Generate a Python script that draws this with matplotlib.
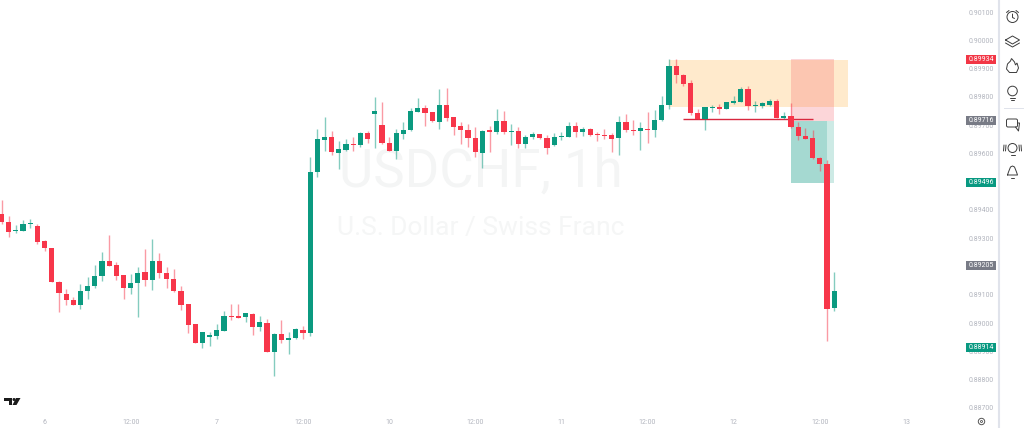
#!/usr/bin/python3
import numpy as np
import matplotlib
matplotlib.use('Agg')
import matplotlib.pyplot as plt
from matplotlib.patches import Rectangle, Circle, Polygon, FancyBboxPatch
from matplotlib.transforms import blended_transform_factory, IdentityTransform

plt.rcParams['font.family'] = ['Roboto', 'DejaVu Sans']

# hourly candles, prices in 1e-5 CHF
highs = [89435,89379,89347,89364,89369,89349,89292,89266,89147,89120,
         89091,89139,89163,89204,89252,89311,89215,89170,89174,89198,
         89261,89297,89248,89199,89191,89131,89067,88997,88969,88969,
         88996,89042,89066,89066,89035,89034,89026,89013,88963,89009,
         88967,88984,88989,89588,89685,89730,89681,89644,89652,89659,
         89676,89681,89799,89782,89657,89685,89710,89760,89796,89770,
         89746,89827,89833,89728,89710,89703,89695,89683,89696,89756,
         89750,89703,89692,89665,89675,89670,89664,89671,89675,89711,
         89710,89692,89689,89677,89685,89674,89733,89738,89718,89712,
         89745,89752,89805,89933,89933,89881,89860,89758,89763,89771,
         89774,89783,89803,89834,89839,89784,89783,89794,89791,89747,
         89778,89711,89690,89682,89588,89577,89180]
body_tops = [89384,89356,89329,89351,89354,89343,89289,89265,89146,89104,
             89081,89113,89131,89166,89219,89219,89205,89169,89143,89178,
             89179,89219,89219,89176,89156,89113,89067,88996,88968,88957,
             88974,89025,89025,89025,89034,89033,89004,89000,88961,88961,
             88948,88979,88977,89534,89650,89659,89659,89615,89633,89633,
             89671,89671,89749,89701,89638,89671,89682,89751,89760,89760,
             89746,89770,89770,89728,89696,89682,89655,89681,89682,89716,
             89716,89679,89678,89659,89668,89668,89655,89659,89662,89696,
             89696,89687,89687,89669,89665,89664,89710,89710,89682,89689,
             89686,89719,89772,89911,89911,89876,89848,89743,89763,89764,
             89763,89782,89784,89829,89829,89771,89777,89785,89785,89734,
             89731,89693,89663,89653,89584,89564,89114]
body_bottoms = [89356,89323,89325,89327,89350,89288,89266,89146,89105,89081,
                89062,89062,89113,89131,89165,89203,89166,89125,89125,89143,
                89152,89152,89176,89156,89113,89062,88994,88931,88931,88949,
                88955,88973,89021,89019,89021,88986,88986,88899,88899,88941,
                88940,88947,88964,88965,89536,89648,89604,89600,89613,89630,
                89629,89651,89738,89636,89610,89609,89670,89682,89748,89743,
                89715,89712,89727,89694,89682,89655,89604,89600,89676,89677,
                89675,89676,89635,89635,89657,89655,89619,89629,89659,89659,
                89676,89676,89665,89666,89663,89651,89655,89682,89679,89680,
                89683,89683,89719,89771,89878,89847,89742,89721,89721,89762,
                89757,89758,89777,89783,89768,89768,89769,89771,89725,89725,
                89693,89662,89652,89584,89562,89048,89054]
lows = [89349,89303,89320,89325,89337,89281,89256,89146,89040,89065,
        89062,89049,89085,89125,89147,89202,89152,89086,89102,89022,
        89130,89117,89160,89125,89111,89047,88964,88928,88912,88918,
        88944,88973,89012,89019,89004,88957,88973,88898,88813,88930,
        88890,88944,88944,88955,89518,89610,89593,89545,89610,89610,
        89624,89638,89619,89633,89609,89580,89651,89679,89747,89696,
        89712,89688,89716,89666,89633,89622,89587,89547,89605,89669,
        89669,89630,89619,89619,89650,89651,89599,89626,89646,89657,
        89657,89663,89663,89644,89651,89604,89595,89675,89665,89612,
        89638,89658,89716,89757,89849,89840,89737,89721,89684,89745,
        89741,89756,89775,89781,89754,89745,89761,89769,89724,89723,
        89691,89647,89651,89580,89538,88937,89042]
directions = ("RRGGGRRRRR" "RGGGGRRRGG" "RGRRRRRRGG" "GGRRGRGRGR" "GGRGGGRGGR"
              "GRGRRGGGGR" "RGRRRRRGRG" "RGRGGRRGGG" "RGRRRRGRRG" "RGGGRRRRGG"
              "RGGGRGGGRG" "RRRRRRG")

time_ticks = [6, 18, 30, 42, 54, 66, 78, 90, 102, 114, 126]
time_labels = ['6', '12:00', '7', '12:00', '10', '12:00', '11', '12:00', '12', '12:00', '13']
# 0.89500 and 0.89200 sit right behind the price tags, so they are left out
price_ticks = [0.90100, 0.90000, 0.89900, 0.89800, 0.89700, 0.89600, 0.89400,
               0.89300, 0.89100, 0.89000, 0.88900, 0.88800, 0.88700]

# price tags on the scale
tag_prices = [0.89934, 0.89716, 0.89496, 0.89205, 0.88914]
tag_colors = ['#F23645', '#787B86', '#089981', '#787B86', '#089981']

RED = '#F7364A'
GREEN = '#0B9A80'
W, H = 1024, 428

fig = plt.figure(figsize=(10.24, 4.28), dpi=100, facecolor='white')
ax = fig.add_axes([0, (H - 414) / H, 966 / W, 414 / H])
ax.set_xlim(-0.209, 134.37)
ax.set_ylim(0.88678, 0.90143)
for s in ax.spines.values():
    s.set_visible(False)

idx = np.arange(len(highs))
h = np.array(highs) / 1e5
l = np.array(lows) / 1e5
top = np.array(body_tops) / 1e5
bot = np.array(body_bottoms) / 1e5
cols = [GREEN if d == 'G' else RED for d in directions]

# watermark
px_y = blended_transform_factory(IdentityTransform(), ax.transData)
ax.text(481, 0.89534, 'USDCHF, 1h', transform=px_y, fontsize=38, color='#F4F5F5',
        ha='center', va='center', zorder=0)
ax.text(481, 0.89336, 'U.S. Dollar / Swiss Franc', transform=px_y, fontsize=19, color='#F5F6F6',
        ha='center', va='center', zorder=0)

# trade zones
ax.add_patch(Rectangle((93, 0.89763), 25, 0.89929 - 0.89763, fc='#FF9800', alpha=0.2, lw=0, zorder=1))
ax.add_patch(Rectangle((110, 0.89716), 6, 0.89934 - 0.89716, fc='#F23645', alpha=0.2, lw=0, zorder=1))
ax.add_patch(Rectangle((110, 0.89496), 6, 0.89716 - 0.89496, fc='#089981', alpha=0.2, lw=0, zorder=1))
ax.add_patch(Rectangle((110, 0.89496), 5, 0.89716 - 0.89496, fc='#089981', alpha=0.2, lw=0, zorder=1))
ax.plot([95, 113], [0.89721, 0.89721], color='#D8283F', lw=1.0, zorder=2, solid_capstyle='butt')

# candles
ax.vlines(idx, l, h, colors=cols, lw=1.0, alpha=0.5, zorder=3)
ax.bar(idx, top - bot, bottom=bot, width=0.72, color=cols, lw=0, zorder=4)

ax.set_xticks(time_ticks)
ax.set_xticklabels(time_labels)
ax.yaxis.tick_right()
ax.set_yticks(price_ticks)
ax.set_yticklabels(['%.5f' % p for p in price_ticks])
ax.tick_params(axis='both', length=0, labelsize=5, labelcolor='#B2B5BE')
ax.tick_params(axis='x', pad=3.5)
ax.tick_params(axis='y', pad=1.8)

tag_tf = blended_transform_factory(ax.transAxes, ax.transData)
for p, c in zip(tag_prices, tag_colors):
    ax.add_patch(Rectangle((1.0, p - 0.00016), 30 / 966, 0.00032, transform=tag_tf, fc=c, lw=0,
                           clip_on=False, zorder=6))
    ax.text(1.0 + 15 / 966, p, '%.5f' % p, transform=tag_tf, color='white', fontsize=5,
            ha='center', va='center', clip_on=False, zorder=7)

# overlay in pixels: toolbar, logo, settings icon
ov = fig.add_axes([0, 0, 1, 1], facecolor='none')
ov.set_xlim(0, W)
ov.set_ylim(H, 0)
ov.axis('off')
ink = '#3C3C3C'
lw = 0.7
ov.plot([998.7, 998.7], [0, H], color='#E0E3EB', lw=1.5)
ov.plot([1004, 1023], [108, 108], color='#E0E3EB', lw=0.7)


def stroke(xs, ys):
    ov.plot(xs, ys, color=ink, lw=lw, solid_capstyle='round', solid_joinstyle='round')


cx = 1012.5
# alarm
ov.add_patch(Circle((cx, 17), 5.5, fc='none', ec=ink, lw=lw))
stroke([cx, cx, cx + 2], [14, 17.5, 18.5])
stroke([cx - 6, cx - 3.5], [12.5, 10.5])
stroke([cx + 6, cx + 3.5], [12.5, 10.5])
# layers
stroke([cx - 7, cx, cx + 7, cx, cx - 7], [40, 36, 40, 44, 40])
stroke([cx - 7, cx, cx + 7], [43, 47, 43])
# flame
t = [(-6, 69), (-5, 64), (-2, 61), (-1, 58.5), (2, 62), (3, 65), (4.5, 63), (6, 68), (4, 72.5), (-3, 72.5)]
ov.add_patch(Polygon([(cx + a, b) for a, b in t], closed=True, fc='none', ec=ink, lw=lw))
# lightbulb
ov.add_patch(Circle((cx, 91), 4.8, fc='none', ec=ink, lw=lw))
stroke([cx - 2.5, cx + 2.5], [98, 98])
stroke([cx - 1.5, cx + 1.5], [100, 100])
# chat
ov.add_patch(FancyBboxPatch((cx - 6, 119), 11, 8, boxstyle='round,pad=0,rounding_size=1.5', fc='none', ec=ink, lw=lw))
stroke([cx + 5, cx + 7, cx + 6, cx + 3], [123, 123, 131, 127])
# bulb with sound
ov.add_patch(Circle((cx, 148), 4.5, fc='none', ec=ink, lw=lw))
stroke([cx - 2, cx + 2], [155, 155])
stroke([cx - 6.5, cx - 7], [145, 151])
stroke([cx + 6.5, cx + 7], [145, 151])
stroke([cx - 8.5, cx - 9], [145, 151])
stroke([cx + 8.5, cx + 9], [145, 151])
# bell
stroke([cx - 5, cx - 4, cx - 2, cx, cx + 2, cx + 4, cx + 5, cx - 5], [175, 172, 167, 166, 167, 172, 175, 175])
stroke([cx - 1.5, cx + 1.5], [177.5, 177.5])
# gear
ov.add_patch(Circle((981.5, 421.5), 3.2, fc='none', ec='#555555', lw=0.7))
ov.add_patch(Circle((981.5, 421.5), 1, fc='none', ec='#555555', lw=0.6))
# TradingView logo
ov.add_patch(Polygon([(4, 398), (12, 398), (12, 405), (9, 405), (9, 401), (4, 401)], fc='#1B1B1B', lw=0))
ov.add_patch(Circle((14, 399.5), 1.5, fc='#1B1B1B', lw=0))
ov.add_patch(Polygon([(16, 398), (20.5, 398), (16.5, 405), (12.5, 405)], fc='#1B1B1B', lw=0))

fig.savefig('out.png', dpi=100)
